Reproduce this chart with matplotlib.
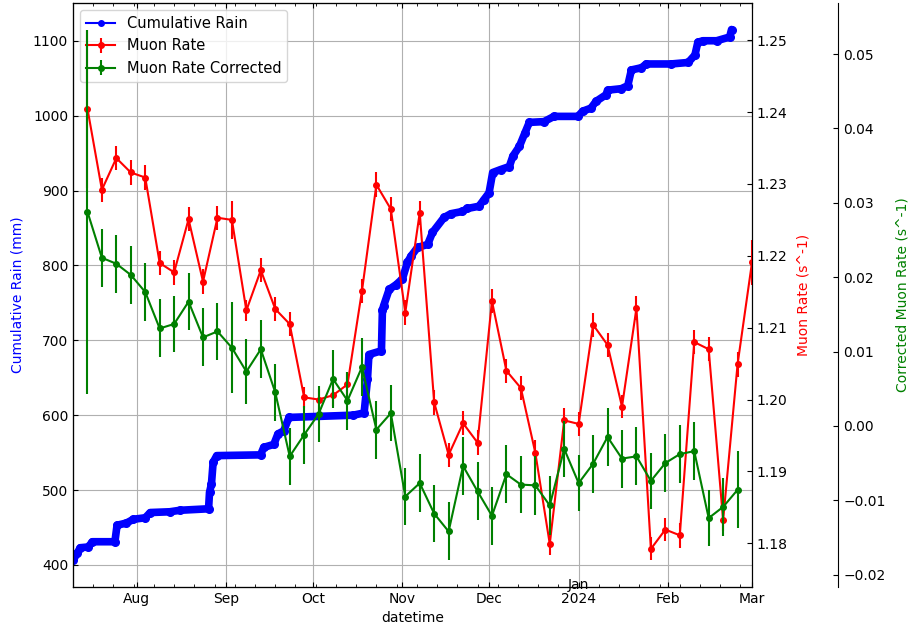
import matplotlib
matplotlib.use("Agg")
import matplotlib.pyplot as plt
import matplotlib.dates as mdates
from matplotlib.lines import Line2D
import pandas as pd

plt.rcParams.update({
    "xtick.direction": "in",
    "ytick.direction": "in",
    "xtick.top": True,
    "ytick.right": True,
})

# cumulative rain (mm)
rain_time = pd.to_datetime([
    "2023-07-10 00:00", "2023-07-11 12:00", "2023-07-12 12:00", "2023-07-15 06:00",
    "2023-07-16 18:00", "2023-07-24 12:00", "2023-07-25 06:00", "2023-07-28 12:00",
    "2023-07-30 22:00", "2023-08-04 00:00", "2023-08-05 18:00", "2023-08-12 12:00",
    "2023-08-16 00:00", "2023-08-25 22:00", "2023-08-26 06:00", "2023-08-26 22:00",
    "2023-08-27 12:00", "2023-08-28 18:00", "2023-09-12 22:00", "2023-09-14 00:00",
    "2023-09-17 12:00", "2023-09-18 22:00", "2023-09-20 22:00", "2023-09-22 18:00",
    "2023-10-15 00:00", "2023-10-18 18:00", "2023-10-19 22:00", "2023-10-20 10:00",
    "2023-10-24 18:00", "2023-10-25 02:00", "2023-10-25 12:00", "2023-10-27 10:00",
    "2023-10-29 18:00", "2023-11-01 00:00", "2023-11-02 18:00", "2023-11-03 22:00",
    "2023-11-06 06:00", "2023-11-09 18:00", "2023-11-11 10:00", "2023-11-15 10:00",
    "2023-11-17 18:00", "2023-11-21 18:00", "2023-11-23 12:00", "2023-11-27 12:00",
    "2023-11-29 06:00", "2023-12-01 00:00", "2023-12-02 06:00", "2023-12-05 00:00",
    "2023-12-08 00:00", "2023-12-09 06:00", "2023-12-11 12:00", "2023-12-13 10:00",
    "2023-12-14 22:00", "2023-12-20 00:00", "2023-12-23 12:00", "2023-12-31 18:00",
    "2024-01-02 10:00", "2024-01-05 06:00", "2024-01-07 00:00", "2024-01-10 12:00",
    "2024-01-11 00:00", "2024-01-15 18:00", "2024-01-18 00:00", "2024-01-19 06:00",
    "2024-01-22 18:00", "2024-01-24 10:00", "2024-02-02 00:00", "2024-02-07 22:00",
    "2024-02-10 06:00", "2024-02-11 06:00", "2024-02-13 00:00", "2024-02-17 18:00",
    "2024-02-22 06:00", "2024-02-22 22:00",
])
rain_mm = [
    406, 416, 423, 424, 431, 431, 453, 456, 461, 463, 470, 471,
    473, 475, 497, 508, 537, 546, 547, 557, 561, 575, 579, 597,
    600, 603, 648, 681, 686, 740, 746, 768, 774, 782, 804, 812,
    824, 828, 844, 864, 869, 872, 876, 879, 888, 897, 924, 928,
    932, 946, 959, 977, 991, 992, 999, 999, 1006, 1010, 1019, 1028,
    1034, 1036, 1040, 1061, 1064, 1069, 1069, 1071, 1081, 1098, 1100, 1100,
    1105, 1115,
]

# muon rate, 5 day bins
muon_time = pd.date_range("2023-07-15", periods=47, freq="5D")
muon_rate = [
    1.2405, 1.2292, 1.2336, 1.2316, 1.2309, 1.2190, 1.2177, 1.2251, 1.2164, 1.2253,
    1.2250, 1.2124, 1.2180, 1.2126, 1.2105, 1.2003, 1.2000, 1.2006, 1.2021, 1.2151,
    1.2299, 1.2265, 1.2121, 1.2260, 1.1996, 1.1923, 1.1967, 1.1940, 1.2137, 1.2040,
    1.2016, 1.1926, 1.1799, 1.1971, 1.1966, 1.2104, 1.2076, 1.1990, 1.2127, 1.1792,
    1.1819, 1.1811, 1.2080, 1.2070, 1.1832, 1.2049, 1.2191,
]
muon_err = [
    0.0110, 0.0017, 0.0017, 0.0017, 0.0017, 0.0017, 0.0017, 0.0017, 0.0017, 0.0017,
    0.0027, 0.0015, 0.0017, 0.0017, 0.0017, 0.0015, 0.0015, 0.0015, 0.0017, 0.0017,
    0.0017, 0.0017, 0.0017, 0.0017, 0.0017, 0.0017, 0.0017, 0.0017, 0.0017, 0.0017,
    0.0017, 0.0017, 0.0015, 0.0017, 0.0017, 0.0017, 0.0017, 0.0016, 0.0017, 0.0016,
    0.0016, 0.0017, 0.0017, 0.0017, 0.0015, 0.0017, 0.0031,
]

# corrected muon rate
corr_rate = [
    0.0288, 0.0226, 0.0218, 0.0203, 0.0180, 0.0131, 0.0137, 0.0167, 0.0119, 0.0127,
    0.0105, 0.0073, 0.0103, 0.0045, -0.0041, -0.0012, 0.0016, 0.0063, 0.0034, 0.0079,
    -0.0005, 0.0017, -0.0095, -0.0077, -0.0118, -0.0142, -0.0054, -0.0088, -0.0121, -0.0065,
    -0.0079, -0.0080, -0.0107, -0.0031, -0.0077, -0.0051, -0.0015, -0.0044, -0.0041, -0.0074,
    -0.0050, -0.0038, -0.0034, -0.0124, -0.0109, -0.0086,
]
corr_err = [
    0.0245, 0.0039, 0.0039, 0.0039, 0.0039, 0.0039, 0.0038, 0.0038, 0.0039, 0.0038,
    0.0061, 0.0044, 0.0039, 0.0038, 0.0038, 0.0039, 0.0038, 0.0039, 0.0039, 0.0039,
    0.0039, 0.0038, 0.0038, 0.0039, 0.0038, 0.0039, 0.0039, 0.0039, 0.0039, 0.0039,
    0.0038, 0.0040, 0.0040, 0.0038, 0.0038, 0.0039, 0.0039, 0.0039, 0.0039, 0.0038,
    0.0039, 0.0039, 0.0039, 0.0038, 0.0039, 0.0052,
]

fig, ax1 = plt.subplots(figsize=(9.09, 6.32), dpi=100)
fig.subplots_adjust(left=0.0803, right=0.8273, top=0.9953, bottom=0.0712)

ax1.plot(rain_time, rain_mm, color="blue", marker=".", ms=11, lw=5.5,
         solid_joinstyle="round", solid_capstyle="round")
ax1.set_ylabel("Cumulative Rain (mm)", color="blue", labelpad=6)
ax1.set_xlabel("datetime")
ax1.grid(True)

ax2 = ax1.twinx()
h2 = ax2.errorbar(muon_time, muon_rate, yerr=muon_err, fmt=".-", color="red", ms=8)
ax2.set_ylabel("Muon Rate (s^-1)", color="red", labelpad=6)

ax3 = ax1.twinx()
ax3.spines["right"].set_position(("axes", 1.127))
h3 = ax3.errorbar(muon_time[:len(corr_rate)], corr_rate, yerr=corr_err, fmt=".-",
                  color="green", ms=8)
ax3.set_ylabel("Corrected Muon Rate (s^-1)", color="green", labelpad=7.5)

ax1.set_xlim(rain_time[0], muon_time[-1])
ax1.xaxis.set_major_locator(mdates.MonthLocator())
ax1.xaxis.set_minor_locator(mdates.WeekdayLocator(byweekday=mdates.MO))


def month_label(x, pos=None):
    d = mdates.num2date(x)
    return str(d.year) if d.month == 1 else d.strftime("%b")


ax1.xaxis.set_major_formatter(plt.FuncFormatter(month_label))
ax1.tick_params(axis="x", which="both", top=True, direction="in")
# month name of the year tick sits above the year, over the spine
ax1.annotate("Jan", xy=(mdates.date2num(pd.Timestamp("2024-01-01")), 0),
             xycoords=("data", "axes fraction"), xytext=(0, 1.5),
             textcoords="offset points", ha="center", va="center",
             annotation_clip=False)

h1 = Line2D([], [], color="blue", marker=".", lw=1.5, ms=8)
ax1.legend([h1, h2, h3], ["Cumulative Rain", "Muon Rate", "Muon Rate Corrected"],
           loc="upper left", fontsize=10.5)

fig.savefig("out.png", dpi=100)
